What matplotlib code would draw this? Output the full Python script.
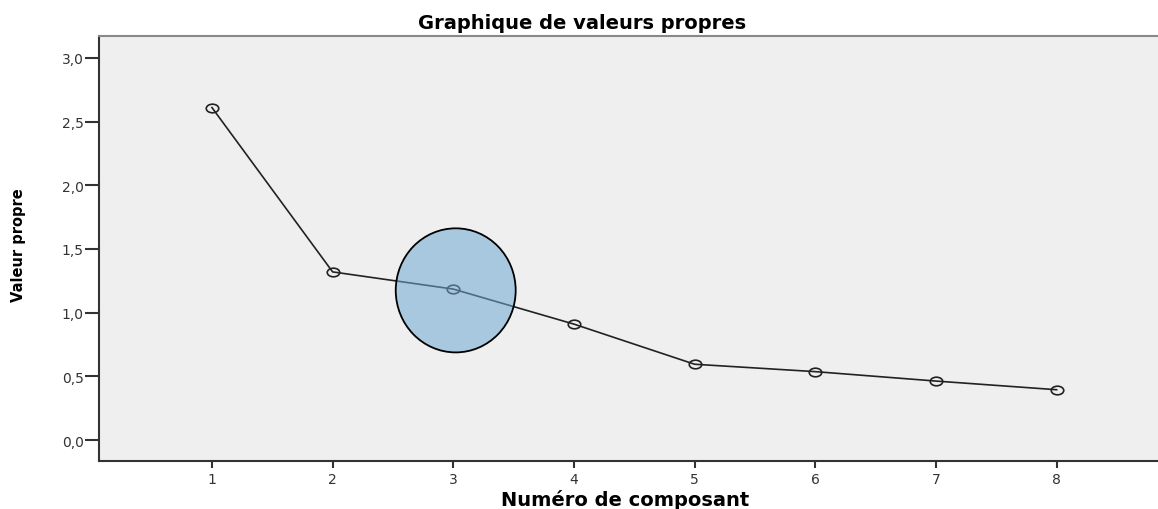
import matplotlib
matplotlib.use("Agg")
import matplotlib.pyplot as plt
from matplotlib.patches import Ellipse
from matplotlib.path import Path
from matplotlib.transforms import Affine2D

components = [1, 2, 3, 4, 5, 6, 7, 8]
eigenvalues = [2.61, 1.32, 1.185, 0.91, 0.595, 0.537, 0.463, 0.395]
y_ticks = [0.0, 0.5, 1.0, 1.5, 2.0, 2.5, 3.0]
y_tick_labels = ["0,0", "0,5", "1,0", "1,5", "2,0", "2,5", "3,0"]

fig = plt.figure(figsize=(11.58, 5.10), dpi=100)
ax = fig.add_axes([0.0855, 0.094, 0.9145, 0.833])
ax.set_facecolor("#efefef")

oval = Path.unit_circle().transformed(Affine2D().scale(1.45, 1.0))
ax.plot(components, eigenvalues, color="#222222", lw=1.2, marker=oval,
        markersize=9, markerfacecolor="none", markeredgecolor="#222222",
        markeredgewidth=1.2, zorder=2)

ell = Ellipse((3.02, 1.175), 0.994, 0.974, facecolor="#6ea8d4", alpha=0.55,
              edgecolor="none", zorder=3)
ax.add_patch(ell)
ell2 = Ellipse((3.02, 1.175), 0.994, 0.974, facecolor="none",
               edgecolor="black", lw=1.3, zorder=4)
ax.add_patch(ell2)

ax.set_xlim(0.064, 8.84)
ax.set_ylim(-0.165, 3.17)
ax.set_xticks(components)
ax.set_xticklabels([str(c) for c in components])
ax.set_yticks(y_ticks)
ax.set_yticklabels(y_tick_labels)

ax.tick_params(axis="both", labelsize=10, colors="#333333", width=1.5)
ax.tick_params(axis="y", length=10, pad=1)
ax.tick_params(axis="x", length=5, pad=3)

for s in ["left", "bottom"]:
    ax.spines[s].set_color("#333333")
    ax.spines[s].set_linewidth(1.5)
ax.spines["top"].set_color("#888888")
ax.spines["top"].set_linewidth(1.5)
ax.spines["right"].set_visible(False)

fig.text(0.503, 0.953, "Graphique de valeurs propres", ha="center", va="center",
         fontsize=14, fontweight="bold")
fig.text(0.54, 0.02, "Numéro de composant", ha="center", va="center",
         fontsize=14, fontweight="bold")
fig.text(0.016, 0.52, "Valeur propre", ha="center", va="center", rotation=90,
         fontsize=10.5, fontweight="bold")

fig.savefig("out.png", dpi=100)
